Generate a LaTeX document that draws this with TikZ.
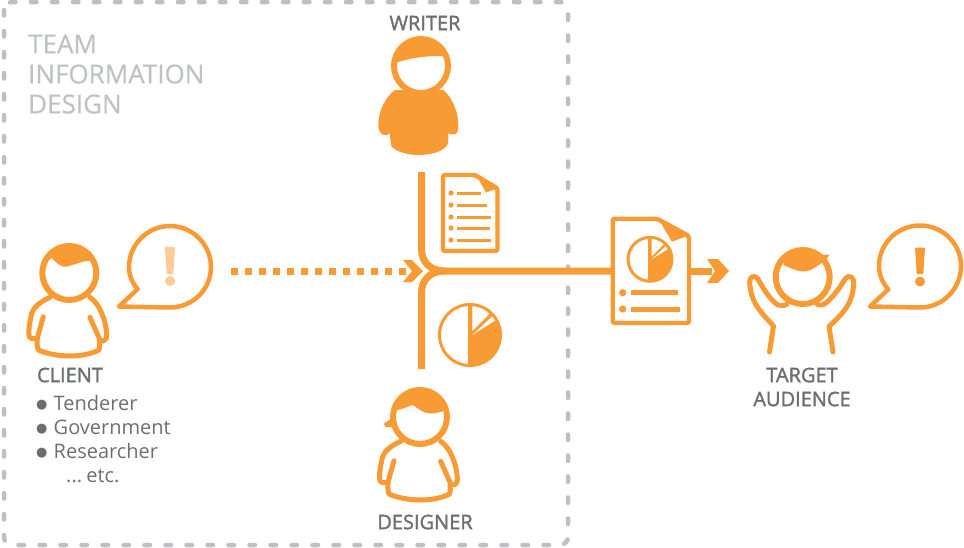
\documentclass[tikz,border=0pt]{standalone}
\usepackage{fontspec}
\setmainfont{Open Sans}
\newfontfamily\semib{Open Sans}[FakeBold=1.6]
\newfontfamily\teamf{Open Sans}[FakeBold=0.5]
\newfontfamily\symf{DejaVu Sans}
\newcommand{\lbul}{\makebox[17.5pt][l]{\raisebox{1.5pt}{\fontsize{13}{13}\selectfont\symf ●}}}
\definecolor{org}{HTML}{F99B34}
\definecolor{pale}{HTML}{FDCB98}
\definecolor{boxg}{HTML}{BEBFC2}
\definecolor{teamg}{HTML}{BFC1C4}
\definecolor{txt}{HTML}{6D6E71}
\tikzset{
  x=1pt,y=-1pt,
  line join=round,
  stem/.style={draw=org,line width=7pt},
  headc/.style={draw=org,line width=6pt,fill=white},
  outl/.style={draw=org,line width=5pt,line cap=round,line join=round},
  roleb/.style={font=\fontsize{20}{20}\selectfont\semib,text=txt,inner sep=0pt,align=center},
  listt/.style={font=\fontsize{20}{20}\selectfont,text=txt,inner sep=0pt,anchor=base west},
  teamt/.style={font=\fontsize{26}{30}\selectfont\teamf,text=teamg,inner sep=0pt,anchor=north west,align=left},
  docb/.style={draw=org,line width=4.4pt,fill=white,line join=round,rounded corners=2pt},
  person body/.pic={
    \draw[outl,fill=white] (-19.3,24.3) .. controls (-30,29) and (-36,35) .. (-37.6,40.3)
      .. controls (-39,47) and (-40.5,53) .. (-40.5,60)
      .. controls (-40.8,64) and (-39,65.5) .. (-37.6,65.5)
      .. controls (-35,66) and (-33,65.8) .. (-32,65.3)
      .. controls (-32.5,70) and (-32,75) .. (-31,77)
      .. controls (-22,81) and (-10,83) .. (0.7,83)
      .. controls (11,83) and (22,81) .. (29.7,77)
      .. controls (30.5,74) and (30.5,71) .. (30,67.7)
      .. controls (32,68.2) and (33.5,68) .. (34.7,67.7)
      .. controls (36.8,67) and (37.8,64) .. (37.4,62)
      .. controls (37,54) and (35,46) .. (32.4,40.3)
      .. controls (30,34) and (26,28) .. (20.7,24.3);
    \draw[outl] (-26,43.7) -- (-32,65.3);
    \draw[outl] (20.7,44.3) -- (30,65.3);
  },
  pie/.pic={
    \begin{scope}
    \clip (0,0) circle (31.5);
    \fill[org] (0,-32) rectangle (32,32);
    \fill[white] (2.3,-4) -- (2.3,-32) -- (24,-32) -- (18.3,-20) -- cycle;
    \fill[white] (2.7,-.3) -- (22.7,-19) -- (26,-15) -- cycle;
    \end{scope}
    \draw[org,line width=3pt] (0,0) circle (30.5);
    \draw[org,line width=2.6pt] (-1,-30) -- (-1,30);
  }
}
\begin{document}
\begin{tikzpicture}
\useasboundingbox (0,0) rectangle (964,547);
% team box
\draw[boxg,line width=4.5pt,line cap=round,dash pattern=on 5.5pt off 15.5pt,rounded corners=8pt] (4,2) rectangle (568,545);
\node[teamt] (team) at (28,34.5) {TEAM\\INFORMATION\\DESIGN};
% writer
\node[roleb] (writer) at (425,23) {WRITER};
\fill[org] (395,90) .. controls (385,97) and (378.5,112) .. (378.3,123.3)
  .. controls (378,131) and (381,135) .. (384,135)
  .. controls (387,135.5) and (389,134.5) .. (390,133.3)
  .. controls (390,138) and (390.5,143) .. (391.7,146.7)
  .. controls (397,152) and (408,155) .. (418.3,155)
  .. controls (430,155) and (443,152) .. (447.3,145)
  .. controls (448.5,142) and (448.5,138) .. (448.3,133.3)
  .. controls (450,134.5) and (453,135) .. (455,134.3)
  .. controls (458,133) and (458.8,128) .. (458.3,123.3)
  .. controls (458,112) and (452,97) .. (443.3,90) -- cycle;
\node[circle,draw=org,line width=6pt,fill=white,minimum size=54pt,inner sep=0pt] (wh) at (421,66) {};
\begin{scope}
\clip (421,66) circle (28);
\fill[org] (385,30) rectangle (457,56) (385,56) -- (385,63.5) -- (397.3,62.3) .. controls (408,59) and (420,56) .. (441.7,56) -- (457,56) -- cycle;
\end{scope}
% writer document
\draw[docb] (443,175) -- (475,175) -- (497.5,188.5) -- (497.5,251) -- (443,251) -- cycle;
\fill[org] (475,173) -- (499.5,187.5) -- (486,192.5) -- cycle;
\foreach \yy/\xe in {193/481,205/487,217/491,228/490,240/491}{
  \fill[org] (451,\yy) circle (2.6);
  \draw[org,line width=3pt] (457,\yy) -- (\xe,\yy);
}
% connectors
\coordinate (wtop) at (421.5,172);
\coordinate (dbot) at (421.5,369);
\coordinate (join) at (445,271);
\coordinate (docin) at (612,271);
\draw[stem] (wtop) -- (421.5,249) .. controls (421.5,262) and (430,271) .. (join) -- (docin);
\draw[stem] (dbot) -- (421.5,293) .. controls (421.5,280) and (430,271) .. (join);
% dotted arrow
\coordinate (dstart) at (231,271);
\coordinate (dend) at (406,271);
\draw[org,line width=7pt,dash pattern=on 7pt off 7pt] (dstart) -- (dend);
\fill[org] (403,260) -- (412,260) -- (423,271) -- (412,282) -- (403,282) -- (412,271) -- cycle;
% designer pie
\pic at (470,335) {pie};
% designer
\pic at (420,417) {person body};
\node[headc,circle,minimum size=54pt,inner sep=0pt] (dh) at (420,417) {};
\fill[org,draw=org,line width=2pt,line join=round] (391,420) -- (385,424) -- (386,426) -- (393,426) -- cycle;
\begin{scope}
\clip (420,417) circle (28);
\fill[org] (385,380) rectangle (455,410) (385,410) -- (385,410.5) -- (397,410)
  .. controls (403,409.5) and (408,406) .. (412.5,405)
  .. controls (418,408) and (424,414) .. (431,413.5)
  .. controls (437,413.5) and (441,412) .. (455,407) -- (455,410) -- cycle;
\end{scope}
\node[roleb] (designer) at (425,522) {DESIGNER};
% client
\pic at (69.3,273) {person body};
\node[headc,circle,minimum size=54pt,inner sep=0pt] (ch) at (69.3,273) {};
\begin{scope}
\clip (69.3,273) circle (28);
\fill[org] (35,235) -- (105,235) -- (105,258) -- (90,260.7)
  .. controls (82,261) and (74,265) .. (67,266.5)
  .. controls (60,268) and (56,262) .. (51.7,258)
  .. controls (46,262) and (40,265) .. (35,265) -- cycle;
\end{scope}
\node[roleb] (client) at (70,375) {CLIENT};
\node[listt] (l1) at (36,410) {\lbul Tenderer};
\node[listt] (l2) at (36,434) {\lbul Government};
\node[listt] (l3) at (36,458) {\lbul Researcher};
\node[listt] (l4) at (66,482) {...\kern-1pt\ etc.};
% client bubble
\draw[org,line width=4.5pt,line join=round,fill=white] (137.7,289) -- (119,306.5) -- (170,307.5)
  .. controls (192.5,307.5) and (211,289.5) .. (211,267)
  .. controls (211,244.5) and (192.5,226) .. (170,226)
  .. controls (147.5,226) and (129,244.5) .. (129,267)
  .. controls (129,275) and (132,283) .. (137.7,289) -- cycle;
\fill[pale] (165,247) -- (175,247) -- (173.3,274) -- (166.7,274) -- cycle;
\fill[pale] (170,281) circle (5);
% final doc
\draw[docb] (612.7,218.7) -- (657,218.7) -- (689,236) -- (689,323) -- (612.7,323) -- cycle;
\fill[org] (657,216.7) -- (690,235) -- (672,241.7) -- cycle;
\pic[scale=.72] at (650,259.3) {pie};
\foreach \yy/\xe in {292.7/678,309/680}{
  \fill[org] (622.7,\yy) circle (3.6);
  \draw[org,line width=5pt] (631,\yy) -- (\xe,\yy);
}
\coordinate (docout) at (690,271);
\coordinate (arrowe) at (712,271);
\draw[org,line width=7pt] (docout) -- (arrowe);
\fill[org] (707,259) -- (718,259) -- (729,271) -- (718,283) -- (707,283) -- (715,271) -- cycle;
% target person
\draw[outl] (769.5,352) -- (773.5,326) .. controls (765,316) and (752,306) .. (750,286)
  .. controls (748,276) and (755,274) .. (758,279)
  .. controls (763,288) and (770,300) .. (778,305)
  .. controls (781,306) and (785,306) .. (787,304);
\draw[outl] (833,352) -- (829,326.5) .. controls (840,316) and (852,306) .. (853.5,286)
  .. controls (855,276) and (848,274) .. (845,279)
  .. controls (840,288) and (832,298) .. (826,303)
  .. controls (823,305) and (819,306) .. (817,304);
\node[headc,circle,minimum size=54pt,inner sep=0pt] (th) at (802.7,277) {};
\fill[org] (783.3,265) .. controls (789,267) and (796,271.5) .. (803,271.5)
  .. controls (813,271.5) and (820,263) .. (825,261)
  .. controls (826,259) and (829,257) .. (829.3,254.7)
  -- (817,254.7) .. controls (810,249) and (795,248) .. (785,256) -- cycle;
\node[roleb] (target) at (802,387) {TARGET\\[4pt]AUDIENCE};
% audience bubble
\draw[org,line width=4.5pt,line join=round,fill=white] (888.3,289.3) -- (870,306.5) -- (920,307.5)
  .. controls (942.5,307.5) and (961,289) .. (961,266)
  .. controls (961,243.5) and (942.5,225.5) .. (920,225.5)
  .. controls (897.5,225.5) and (879,243.5) .. (879,266)
  .. controls (879,275) and (882.5,283) .. (888.3,289.3) -- cycle;
\fill[org] (915,247.5) -- (925,247.5) -- (923.3,274) -- (916.7,274) -- cycle;
\fill[org] (920,281.5) circle (5);
\end{tikzpicture}
\end{document}
